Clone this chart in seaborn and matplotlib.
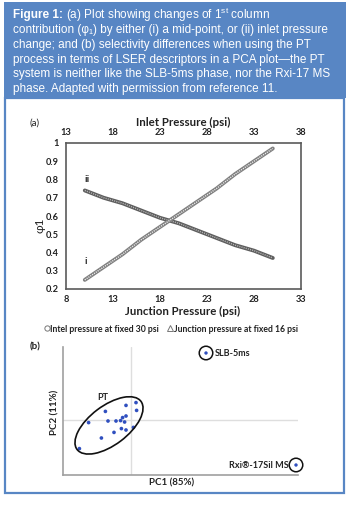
import numpy as np
import pandas as pd
import matplotlib
matplotlib.use("Agg")
import matplotlib.pyplot as plt
import seaborn as sns
from matplotlib.patches import Rectangle, Ellipse
from matplotlib.lines import Line2D

# ---------------- data ----------------
junction_x = [10, 12, 14, 16, 18, 20, 22, 24, 26, 28, 30]
phi_i = [0.25, 0.32, 0.39, 0.47, 0.54, 0.61, 0.68, 0.75, 0.83, 0.90, 0.97]
phi_ii = [0.74, 0.70, 0.67, 0.63, 0.59, 0.56, 0.52, 0.48, 0.44, 0.41, 0.37]
bottom_ticks = [8, 13, 18, 23, 28, 33]
top_ticks = [13, 18, 23, 28, 33, 38]
y_ticks = [0.2, 0.3, 0.4, 0.5, 0.6, 0.7, 0.8, 0.9, 1.0]
y_ticklabels = ["0.2", "0.3", "0.4", "0.5", "0.6", "0.7", "0.8", "0.9", "1"]

pt_pc1 = [0.25, -0.25, 0.28, -1.28, -0.25, -0.42, -1.15, -0.75, -0.52, -0.32,
          -2.12, 0.12, -0.48, -0.25, -0.85, -1.48, -2.58]
pt_pc2 = [0.87, 0.73, 0.48, 0.43, 0.20, 0.12, -0.05, -0.05, -0.03, -0.10,
          -0.13, -0.37, -0.43, -0.50, -0.62, -0.90, -1.43]
ref_names = ["SLB-5ms", "Rxi®-17Sil MS"]
ref_pc1 = [3.75, 8.25]
ref_pc2 = [3.35, -2.25]

header_bold = "Figure 1:"
header_lines = [
    r"(a) Plot showing changes of 1$^{\mathrm{st}}$ column",
    "contribution (φ₁) by either (i) a mid-point, or (ii) inlet pressure",
    "change; and (b) selectivity differences when using the PT",
    "process in terms of LSER descriptors in a PCA plot—the PT",
    "system is neither like the SLB-5ms phase, nor the Rxi-17 MS",
    "phase. Adapted with permission from reference 11.",
]

# ---------------- style ----------------
sns.set_theme(style="white")
plt.rcParams["font.family"] = ["Lato", "DejaVu Sans"]
plt.rcParams["mathtext.fontset"] = "custom"
plt.rcParams["mathtext.rm"] = "Liberation Sans"
plt.rcParams["mathtext.bf"] = "Liberation Sans:bold"

W, H = 350, 505
fig = plt.figure(figsize=(W / 100, H / 100), dpi=100)
fig.patch.set_facecolor("white")

BLUE = "#5886c4"

def fx(px):
    return px / W

def fy(py):
    return 1 - py / H

# header band and body border
fig.patches.append(Rectangle((fx(4), fy(98)), fx(342), 96 / H, transform=fig.transFigure,
                             facecolor=BLUE, edgecolor="none", zorder=0))
fig.patches.append(Rectangle((fx(5), fy(493)), fx(339), 395 / H, transform=fig.transFigure,
                             facecolor="none", edgecolor=BLUE, lw=1.6, zorder=0))

HFONT = ["Liberation Sans", "DejaVu Sans"]
HSIZE = 8.5
line_y = [15, 30.5, 45, 60, 74.5, 89]
renderer = fig.canvas.get_renderer()
tb = fig.text(fx(13), fy(line_y[0]), header_bold, color="white", fontsize=HSIZE,
              fontweight="bold", va="center", ha="left", family=HFONT)
bb = tb.get_window_extent(renderer=renderer)
for k, (txt, yy) in enumerate(zip(header_lines, line_y)):
    x0 = fx(13) if k > 0 else (bb.x1 + 3) / W
    fig.text(x0, fy(yy), txt, color="white", fontsize=HSIZE, va="center", ha="left",
             family=HFONT)

# ---------------- panel (a) ----------------
ax = fig.add_axes([fx(66), fy(289), fx(235), 146 / H])
df = pd.DataFrame({"x": junction_x, "i": phi_i, "ii": phi_ii})

sns.lineplot(data=df, x="x", y="ii", ax=ax, color="#5e5e5e", lw=2.8,
             solid_capstyle="round")
sns.lineplot(data=df, x="x", y="ii", ax=ax, color="#b5b5b5", lw=1.0, ls=(0, (0.8, 0.8)))
sns.lineplot(data=df, x="x", y="i", ax=ax, color="#808080", lw=2.8,
             solid_capstyle="round")
sns.lineplot(data=df, x="x", y="i", ax=ax, color="#eeeeee", lw=1.0, ls=(0, (0.8, 0.8)))

ax.set_xlim(8, 33)
ax.set_ylim(0.2, 1.0)
ax.set_xticks(bottom_ticks)
ax.set_xticklabels([str(t) for t in bottom_ticks])
ax.set_yticks(y_ticks)
ax.set_yticklabels(y_ticklabels)
ax.tick_params(axis="both", length=0, labelsize=6.7, colors="#222222")
ax.tick_params(axis="x", pad=4.5)
ax.tick_params(axis="y", pad=5)
for lab in ax.get_xticklabels() + ax.get_yticklabels():
    lab.set_fontweight("bold")
for s in ax.spines.values():
    s.set_color("#5a5a5a")
    s.set_linewidth(1.2)

ax.set_xlabel("Junction Pressure (psi)", fontsize=8.3, fontweight="bold", color="#222222")
ax.xaxis.set_label_coords(0.498, -0.157)
ax.xaxis.label.set_va("center")
ax.set_ylabel("φ1", fontsize=8.5, color="#222222")
ax.yaxis.set_label_coords(-0.11, 0.44)
ax.yaxis.label.set_va("center")

ax.text(10.2, 0.80, "ii", fontsize=7.5, fontweight="bold", color="#333333", ha="center", va="center")
ax.text(10.1, 0.35, "i", fontsize=7.5, fontweight="bold", color="#333333", ha="center", va="center")

axt = ax.twiny()
axt.set_xlim(13, 38)
axt.set_xticks(top_ticks)
axt.set_xticklabels([str(t) for t in top_ticks])
axt.tick_params(axis="x", length=0, labelsize=6.7, colors="#222222", pad=4)
for lab in axt.get_xticklabels():
    lab.set_fontweight("bold")
for s in axt.spines.values():
    s.set_visible(False)
axt.set_xlabel("Inlet Pressure (psi)", fontsize=8.3, fontweight="bold", color="#222222")
axt.xaxis.set_label_coords(0.498, 1.143)
axt.xaxis.label.set_va("center")

fig.text(fx(35), fy(123), "(a)", fontsize=7, color="#222222", ha="center", va="center")

handles = [Line2D([], [], marker="o", ls="none", mfc="none", mec="#777777", ms=3.8, mew=0.7),
           Line2D([], [], marker="^", ls="none", mfc="none", mec="#777777", ms=4.0, mew=0.7)]
leg = fig.legend(handles, ["Intel pressure at fixed 30 psi", "Junction pressure at fixed 16 psi"],
                 loc="center", bbox_to_anchor=(fx(171), fy(329)), ncol=2, frameon=False,
                 fontsize=6.2, handlelength=0.6, handletextpad=0.1, columnspacing=1.0,
                 borderpad=0)
for t in leg.get_texts():
    t.set_fontweight("bold")
    t.set_color("#222222")

# ---------------- panel (b) ----------------
bx = fig.add_axes([fx(63), fy(475), fx(235), 128 / H])
bx.set_xlim(-3.4, 8.35)
bx.set_ylim(-2.75, 3.65)
bx.axhline(0, color="#dedede", lw=1.0, zorder=0)
bx.axvline(0, color="#dedede", lw=1.0, zorder=0)

pts = pd.DataFrame({"PC1": pt_pc1, "PC2": pt_pc2})
sns.scatterplot(data=pts, x="PC1", y="PC2", ax=bx, color="#2f4fbf", s=7, edgecolor="none", zorder=3)
refs = pd.DataFrame({"PC1": ref_pc1, "PC2": ref_pc2, "name": ref_names})
sns.scatterplot(data=refs, x="PC1", y="PC2", ax=bx, color="#2f4fbf", s=6, edgecolor="none",
                zorder=3, clip_on=False)
sns.scatterplot(data=refs, x="PC1", y="PC2", ax=bx, s=95, facecolor="none",
                edgecolor="#111111", linewidth=1.1, zorder=3, clip_on=False)

bx.add_patch(Ellipse((-1.1, -0.27), width=4.0, height=1.95, angle=37,
                     facecolor="none", edgecolor="#111111", lw=1.2, zorder=4))

bx.text(-1.4, 1.15, "PT", fontsize=6.5, fontweight="bold", color="#222222", ha="center", va="center")
bx.text(ref_pc1[0] + 0.45, ref_pc2[0], ref_names[0], fontsize=6.5, fontweight="bold",
        color="#222222", ha="left", va="center")
bx.text(ref_pc1[1] - 0.38, ref_pc2[1], ref_names[1], fontsize=6.5, fontweight="bold",
        color="#222222", ha="right", va="center")

bx.set_xticks([])
bx.set_yticks([])
for side in ["top", "right"]:
    bx.spines[side].set_visible(False)
for side in ["left", "bottom"]:
    bx.spines[side].set_color("#a0a0a0")
    bx.spines[side].set_linewidth(1.2)
bx.set_xlabel("PC1 (85%)", fontsize=7, fontweight="bold", color="#222222")
bx.xaxis.set_label_coords(0.46, -0.0625)
bx.xaxis.label.set_va("center")
bx.set_ylabel("PC2 (11%)", fontsize=7, fontweight="bold", color="#222222")
bx.yaxis.set_label_coords(-0.034, 0.49)
bx.yaxis.label.set_va("center")
bx.set_facecolor("none")

fig.text(fx(35), fy(347), "(b)", fontsize=7, fontweight="bold", color="#222222", ha="center", va="center")

fig.savefig("out.png", dpi=100)
